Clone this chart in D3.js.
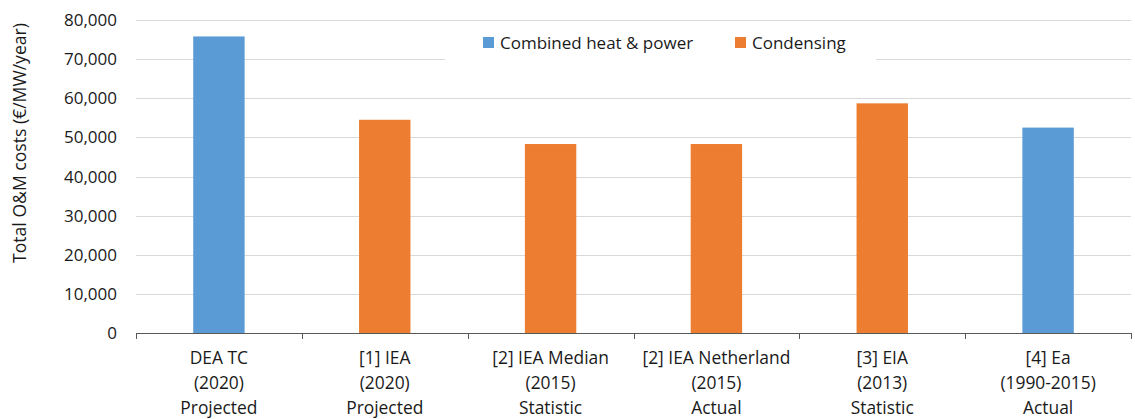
<!DOCTYPE html>
<html>
<head>
<meta charset="utf-8">
<script src="https://cdn.jsdelivr.net/npm/d3@7"></script>
<style>
  body { margin: 0; background: #fff; }
  text { font-family: "Open Sans", sans-serif; fill: #1a1a1a; }
</style>
</head>
<body>
<svg id="chart" width="1135" height="419"></svg>
<script>
const categories = [
    ["DEA TC", "(2020)", "Projected"],
    ["[1] IEA", "(2020)", "Projected"],
    ["[2] IEA Median", "(2015)", "Statistic"],
    ["[2] IEA Netherland", "(2015)", "Actual"],
    ["[3] EIA", "(2013)", "Statistic"],
    ["[4] Ea", "(1990-2015)", "Actual"]
];
const costs = [75800, 54500, 48300, 48300, 58700, 52500];
const plantType = ["Combined heat & power", "Condensing", "Condensing", "Condensing", "Condensing", "Combined heat & power"];
const seriesNames = ["Combined heat & power", "Condensing"];
const yTicks = [0, 10000, 20000, 30000, 40000, 50000, 60000, 70000, 80000];

const plot_left = 136, plot_right = 1131, plot_top = 20, plot_bottom = 333;

var svg = d3.select("#chart");

var x = d3.scaleBand()
    .domain(d3.range(categories.length))
    .range([plot_left, plot_right])
    .paddingInner(0.69)
    .paddingOuter(0.345);

var y = d3.scaleLinear()
    .domain([0, 80000])
    .range([plot_bottom, plot_top]);

var color = d3.scaleOrdinal()
    .domain(seriesNames)
    .range(["#5b9bd5", "#ed7d31"]);

// gridlines
svg.append("g")
    .selectAll("line")
    .data(yTicks.slice(1))
    .enter()
    .append("line")
    .attr("x1", plot_left)
    .attr("x2", plot_right)
    .attr("y1", (d) => Math.round(y(d)) + 0.5)
    .attr("y2", (d) => Math.round(y(d)) + 0.5)
    .attr("stroke", "#d9d9d9")
    .attr("stroke-width", 1);

// y tick labels
svg.append("g")
    .selectAll("text")
    .data(yTicks)
    .enter()
    .append("text")
    .attr("x", 117)
    .attr("y", (d) => y(d) + 6)
    .attr("text-anchor", "end")
    .style("font-size", "17px")
    .text((d) => d3.format(",")(d));

// bars
svg.append("g")
    .selectAll("rect")
    .data(costs)
    .enter()
    .append("rect")
    .attr("x", (d, i) => x(i))
    .attr("y", (d) => y(d))
    .attr("width", x.bandwidth())
    .attr("height", (d) => plot_bottom - y(d))
    .attr("fill", (d, i) => color(plantType[i]));

// x axis line and ticks
var step = x.step();
svg.append("line")
    .attr("x1", plot_left).attr("x2", plot_right)
    .attr("y1", plot_bottom + 0.5).attr("y2", plot_bottom + 0.5)
    .attr("stroke", "#595959");
svg.append("g")
    .selectAll("line")
    .data(d3.range(categories.length + 1))
    .enter()
    .append("line")
    .attr("x1", (d) => Math.round(plot_left + d * step) + 0.5)
    .attr("x2", (d) => Math.round(plot_left + d * step) + 0.5)
    .attr("y1", plot_bottom)
    .attr("y2", plot_bottom + 6)
    .attr("stroke", "#595959");

// category labels
var labels = svg.append("g")
    .selectAll("text")
    .data(categories)
    .enter()
    .append("text")
    .attr("text-anchor", "middle")
    .style("font-size", "17.4px");
labels.selectAll("tspan")
    .data((d, i) => d.map((t) => [t, i]))
    .enter()
    .append("tspan")
    .attr("x", (d) => x(d[1]) + x.bandwidth() / 2)
    .attr("y", (d, j) => 364 + j * 25)
    .text((d) => d[0]);

// y axis title
svg.append("text")
    .attr("transform", "translate(26,143) rotate(-90)")
    .attr("text-anchor", "middle")
    .style("font-size", "17.6px")
    .text("Total O&M costs (€/MW/year)");

// legend
var legend = svg.append("g");
legend.append("rect")
    .attr("x", 445).attr("y", 24)
    .attr("width", 431).attr("height", 40)
    .attr("fill", "#fff");
var legendX = [483, 735];
seriesNames.forEach((name, i) => {
    legend.append("rect")
        .attr("x", legendX[i]).attr("y", 37)
        .attr("width", 11).attr("height", 11)
        .attr("fill", color(name));
    legend.append("text")
        .attr("x", legendX[i] + 17).attr("y", 49)
        .style("font-size", "17px")
        .text(name);
});
</script>
</body>
</html>
